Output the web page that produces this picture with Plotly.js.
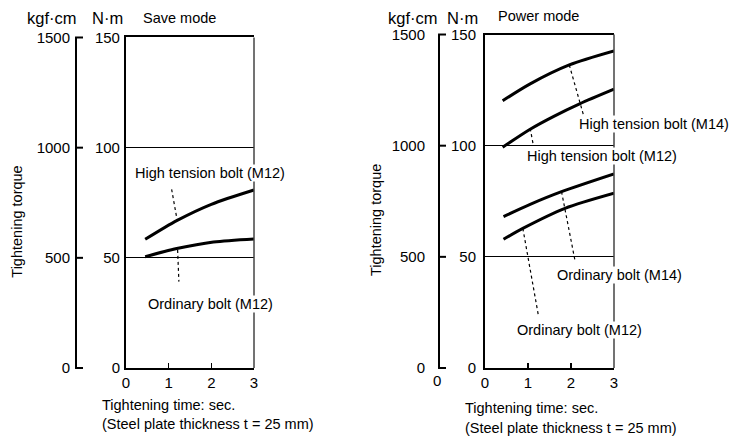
<!DOCTYPE html>
<html>
<head>
<meta charset="utf-8">
<script src="https://cdn.plot.ly/plotly-3.0.1.min.js"></script>
<style>html,body{margin:0;padding:0;background:#fff;}#chart{width:732px;height:438px;}</style>
</head>
<body>
<div id="chart"></div>
<script>
// ---- data (torque in N·m, time in sec) ----
const timeTicks = [0, 1, 2, 3];
const nmTicks = [0, 50, 100, 150];
const kgfTicks = [0, 500, 1000, 1500];

// Save mode
const saveHighM12_t = [0.45, 1.2, 2.0, 3.0];
const saveHighM12_v = [58.4, 67.0, 74.3, 80.8];
const saveOrdM12_t = [0.45, 1.19, 2.05, 3.0];
const saveOrdM12_v = [50.5, 54.2, 57.2, 58.6];

// Power mode
const powHighM14_t = [0.41, 1.05, 1.96, 3.0];
const powHighM14_v = [120.2, 127.8, 136.3, 142.6];
const powHighM12_t = [0.41, 1.05, 1.6, 2.2, 3.0];
const powHighM12_v = [99.3, 107.4, 113.2, 118.8, 125.4];
const powOrdM14_t = [0.43, 1.05, 1.78, 3.0];
const powOrdM14_v = [68.1, 73.6, 79.3, 87.3];
const powOrdM12_t = [0.43, 0.88, 1.86, 3.0];
const powOrdM12_v = [57.9, 62.8, 71.8, 78.6];

const REG = '"Liberation Sans", Arial, sans-serif';
const KGF_RANGE = [0, 1500];
const leftDomain = [0.1598, 0.9144];
const rightDomain = [0.1598, 0.9212];

function curve(t, v, xa, ya) {
  return {x: t, y: v, xaxis: xa, yaxis: ya, type: 'scatter', mode: 'lines',
    line: {color: '#000', width: 3, shape: 'spline', smoothing: 0.8},
    hoverinfo: 'skip', showlegend: false};
}
function ghost(xa, ya) {
  return {x: [null], y: [null], xaxis: xa, yaxis: ya, type: 'scatter', mode: 'lines',
    hoverinfo: 'skip', showlegend: false};
}

const data = [
  curve(saveHighM12_t, saveHighM12_v, 'x', 'y'),
  curve(saveOrdM12_t, saveOrdM12_v, 'x', 'y'),
  curve(powHighM14_t, powHighM14_v, 'x2', 'y2'),
  curve(powHighM12_t, powHighM12_v, 'x2', 'y2'),
  curve(powOrdM14_t, powOrdM14_v, 'x2', 'y2'),
  curve(powOrdM12_t, powOrdM12_v, 'x2', 'y2'),
  ghost('x', 'y3'),
  ghost('x2', 'y4')
];

function xAxis(domain, anchor) {
  return {domain: domain, anchor: anchor, range: [0, 3], tickvals: timeTicks,
    ticks: 'inside', ticklen: 5, tickwidth: 1.2, tickcolor: '#000',
    showline: true, linewidth: 2, linecolor: '#000', mirror: true,
    showgrid: false, zeroline: false, fixedrange: true,
    tickfont: {family: REG, size: 15, color: '#000'}};
}
function nmAxis(domain, anchor, standoff) {
  return {domain: domain, anchor: anchor, range: [0, 150], tickvals: nmTicks,
    ticks: '', showline: true, linewidth: 2, linecolor: '#000',
    showgrid: true, gridcolor: '#000', gridwidth: 1, zeroline: false,
    ticklabelstandoff: standoff, fixedrange: true,
    tickfont: {family: REG, size: 15, color: '#000'}};
}
// kgf·cm scale: line + labels on the left
function kgfAxis(over, pos, standoff) {
  return {overlaying: over, anchor: 'free', position: pos, side: 'left',
    range: KGF_RANGE, tickvals: kgfTicks, ticks: '',
    showline: true, linewidth: 1.6, linecolor: '#000', showgrid: false, zeroline: false,
    ticklabelstandoff: standoff, fixedrange: true,
    tickfont: {family: REG, size: 15, color: '#000'}};
}

const labFont = {family: REG, size: 14.5, color: '#000'};
const unitFont = {family: REG, size: 16.5, color: '#000'};
const regFont = {family: REG, size: 15, color: '#000'};

function lab(text, x, y, xr, yr) {
  return {text: text, x: x, y: y, xref: xr, yref: yr, showarrow: false,
    font: labFont, bgcolor: '#fff', borderpad: 0, xanchor: 'center', yanchor: 'middle'};
}
function ptxt(text, x, y, font, xanchor, angle) {
  return {text: text, x: x, y: y, xref: 'paper', yref: 'paper', showarrow: false,
    font: font, xanchor: xanchor || 'center', yanchor: 'middle', textangle: angle || 0};
}

const annotations = [
  ptxt('kgf·cm', 0.0710, 0.9578, unitFont),
  ptxt('N·m', 0.1462, 0.9578, unitFont),
  ptxt('Save mode', 0.2459, 0.9589, labFont),
  ptxt('kgf·cm', 0.5642, 0.9600, unitFont),
  ptxt('N·m', 0.6325, 0.9600, unitFont),
  ptxt('Power mode', 0.735, 0.9635, labFont),
  ptxt('Tightening torque', 0.0228, 0.4932, labFont, 'center', -90),
  ptxt('Tightening torque', 0.5137, 0.4977, labFont, 'center', -90),
  ptxt('Tightening time: sec.', 0.1366, 0.0753, labFont, 'left'),
  ptxt('(Steel plate thickness t = 25 mm)', 0.1366, 0.0320, labFont, 'left'),
  ptxt('Tightening time: sec.', 0.6325, 0.0685, labFont, 'left'),
  ptxt('(Steel plate thickness t = 25 mm)', 0.6325, 0.0228, labFont, 'left'),
  ptxt('0', 0.597, 0.1324, regFont),
  lab('High tension bolt (M12)', 1.97, 88.5, 'x', 'y'),
  lab('Ordinary bolt (M12)', 1.97, 29.0, 'x', 'y'),
  lab('High tension bolt (M14)', 0.8934, 109.8, 'paper', 'y2'),
  lab('High tension bolt (M12)', 2.72, 95.4, 'x2', 'y2'),
  lab('Ordinary bolt (M14)', 0.8463, 41.8, 'paper', 'y2'),
  lab('Ordinary bolt (M12)', 2.19, 17.1, 'x2', 'y2')
];

function leader(x0, y0, x1, y1, xr, yr) {
  return {type: 'line', xref: xr, yref: yr, x0: x0, y0: y0, x1: x1, y1: y1,
    line: {color: '#000', width: 1.2, dash: 'dot'}, layer: 'above'};
}
function rightBorder(xr, yr) {
  return {type: 'line', xref: xr + ' domain', yref: yr + ' domain', x0: 1, x1: 1, y0: 0, y1: 1,
    line: {color: '#444', width: 1.5}, layer: 'above'};
}
// tick marks of the kgf·cm scale, pointing right from its line (mapped through the axis domain)
function kgfTickMarks(pos, dom) {
  return kgfTicks.map(v => {
    const f = (v - KGF_RANGE[0]) / (KGF_RANGE[1] - KGF_RANGE[0]);
    const y = dom[0] + f * (dom[1] - dom[0]);
    return {type: 'line', xref: 'paper', yref: 'paper',
      x0: pos, x1: pos + 8 / 732, y0: y, y1: y,
      line: {color: '#000', width: 2}, layer: 'above'};
  });
}

const shapes = [
  rightBorder('x', 'y'),
  rightBorder('x2', 'y2'),
  leader(1.07, 81.1, 1.2, 67.0, 'x', 'y'),
  leader(1.21, 53.6, 1.24, 39.2, 'x', 'y'),
  leader(1.96, 136.3, 2.29, 113.8, 'x2', 'y2'),
  leader(1.05, 107.8, 1.12, 100.6, 'x2', 'y2'),
  leader(1.78, 79.3, 2.09, 48.6, 'x2', 'y2'),
  leader(0.88, 62.8, 1.24, 23.8, 'x2', 'y2')
].concat(kgfTickMarks(0.1025, leftDomain), kgfTickMarks(0.5984, rightDomain));

const layout = {
  width: 732, height: 438,
  margin: {l: 0, r: 0, t: 0, b: 0, pad: 0},
  paper_bgcolor: '#fff', plot_bgcolor: '#fff',
  showlegend: false,
  font: {family: REG, size: 15, color: '#000'},
  xaxis: xAxis([0.1721, 0.3470], 'y'),
  yaxis: nmAxis(leftDomain, 'x', 1),
  yaxis3: kgfAxis('y', 0.1025, 2),
  xaxis2: xAxis([0.6626, 0.8388], 'y2'),
  yaxis2: nmAxis(rightDomain, 'x2', 4),
  yaxis4: kgfAxis('y2', 0.5984, 10),
  annotations: annotations,
  shapes: shapes
};

Plotly.newPlot('chart', data, layout, {displayModeBar: false, staticPlot: true});
</script>
</body>
</html>
